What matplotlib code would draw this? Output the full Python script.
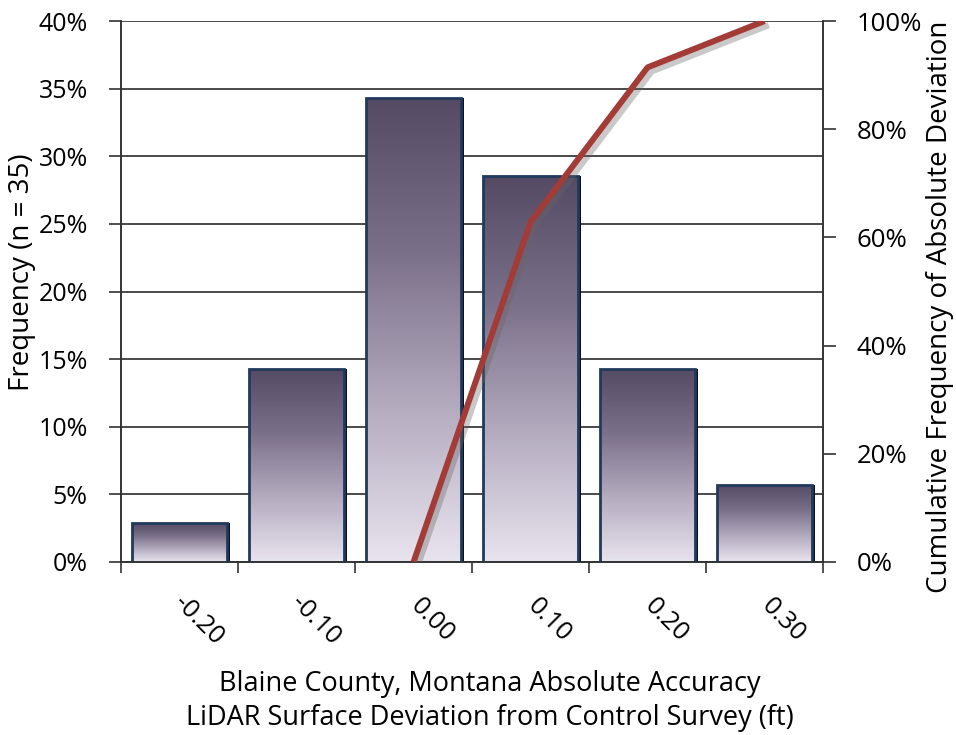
import matplotlib.pyplot as plt
import matplotlib.patheffects as pe
from matplotlib.colors import LinearSegmentedColormap
from matplotlib.ticker import FuncFormatter, MultipleLocator
import numpy as np

plt.rcParams['font.family'] = ['Open Sans', 'DejaVu Sans']

# deviation bins (ft) and share of the 35 check points in each
bins = ['-0.20', '-0.10', '0.00', '0.10', '0.20', '0.30']
counts = [1, 5, 12, 10, 5, 2]
n_points = 35
freq_pct = [100.0 * c / n_points for c in counts]

# cumulative frequency of absolute deviation, starting at the 0.00 bin
cum_bins = ['0.00', '0.10', '0.20', '0.30']
cum_pct = [0.0, 62.86, 91.43, 100.0]

fig = plt.figure(figsize=(9.56, 7.35), dpi=100)
ax = fig.add_axes([0.1266, 0.2354, 0.7344, 0.736])
ax2 = ax.twinx()

x = np.arange(len(bins))
width = 0.81

grad_cmap = LinearSegmentedColormap.from_list('bar', ['#e8e4ee', '#b4abbf', '#7b7089', '#554a63'])
grad = np.linspace(0, 1, 256).reshape(-1, 1)

# dark drop shadow on the right side of each bar
ax.bar(x + 0.026, freq_pct, width, color='#101018', zorder=2.7, linewidth=0)
bars = ax.bar(x, freq_pct, width, facecolor='none', edgecolor='#1f3a5c',
              linewidth=2.0, zorder=3)
for b in bars:
    x0 = b.get_x()
    im = ax.imshow(grad, extent=[x0, x0 + b.get_width(), 0, b.get_height()],
                   origin='lower', aspect='auto', cmap=grad_cmap, zorder=2.9,
                   interpolation='bilinear')
    im.set_clip_path(b)

ax.set_xlim(-0.5, len(bins) - 0.5)
ax.set_ylim(0, 40)
ax.yaxis.set_major_locator(MultipleLocator(5))
ax.yaxis.set_major_formatter(FuncFormatter(lambda v, p: f'{v:.0f}%'))
ax.grid(axis='y', color='#2a2a2a', linewidth=1.2, zorder=0)
ax.set_axisbelow(True)

# ticks sit on the bin boundaries; the (invisible) major ticks carry the
# slanted labels, nudged a little right of the bin centres
ax.set_xticks(x + 0.16)
ax.set_xticklabels(bins, rotation=-45, ha='center', va='center',
                   rotation_mode='anchor', fontsize=18.5)
ax.set_xticks(np.arange(len(bins) + 1) - 0.5, minor=True)
ax.tick_params(axis='x', which='major', length=0, pad=42)
ax.tick_params(axis='x', which='minor', length=8, width=1.2, color='#333333')
ax.tick_params(axis='y', length=9, width=1.2, color='#333333', labelsize=18, pad=15)

cum_x = [bins.index(b) for b in cum_bins]
ax2.plot(cum_x, cum_pct, color='#a33b37', linewidth=4.3, solid_capstyle='butt', zorder=5,
         path_effects=[pe.SimpleLineShadow(offset=(3, -3), shadow_color='#666666', alpha=0.35),
                       pe.Normal()])
ax2.set_ylim(0, 100)
ax2.yaxis.set_major_locator(MultipleLocator(20))
ax2.yaxis.set_major_formatter(FuncFormatter(lambda v, p: f'{v:.0f}%'))
ax2.tick_params(axis='y', length=9, width=1.2, color='#333333', labelsize=18.5, pad=15)

for a in (ax, ax2):
    a.spines['top'].set_visible(False)
    for s in ('left', 'right', 'bottom'):
        a.spines[s].set_color('#333333')
        a.spines[s].set_linewidth(1.2)

fig.text(22 / 956, 1 - 272 / 735, 'Frequency (n = 35)', rotation=90,
         ha='center', va='center', fontsize=20)
fig.text(940 / 956, 1 - 307 / 735, 'Cumulative Frequency of Absolute Deviation', rotation=90,
         ha='center', va='center', fontsize=20)
fig.text(490 / 956, 1 - 701 / 735,
         'Blaine County, Montana Absolute Accuracy\nLiDAR Surface Deviation from Control Survey (ft)',
         ha='center', va='center', fontsize=19.5, linespacing=1.25)

fig.savefig('out.png', dpi=100)
